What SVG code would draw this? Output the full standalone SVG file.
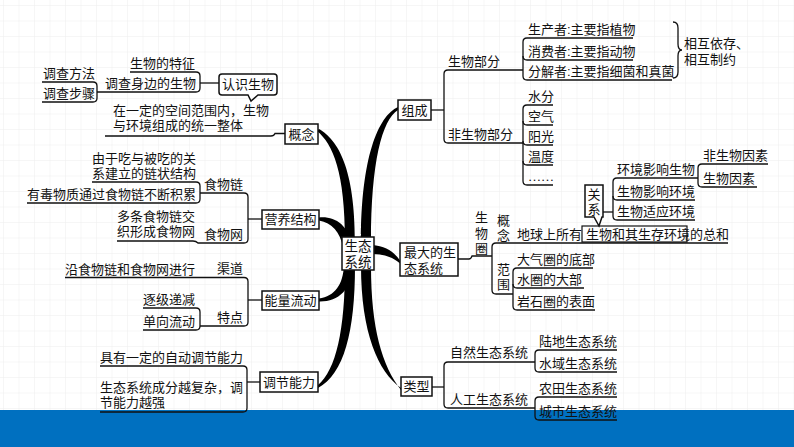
<svg xmlns="http://www.w3.org/2000/svg" width="794" height="447" viewBox="0 0 794 447">
<defs>
<pattern id="grid" x="3" y="5" width="15.5" height="15.5" patternUnits="userSpaceOnUse"><path d="M0,0 H15.5 M0,0 V15.5" stroke="#eeeeee" stroke-width="1" fill="none"/></pattern>
<style>
text{font-family:"Liberation Sans","Noto Sans CJK SC",sans-serif;font-size:13px;fill:#111}
.m{text-anchor:middle}
.ln{fill:none;stroke:#111;stroke-width:1.3}
.box{fill:#fff;stroke:#111;stroke-width:1.5}
.br{fill:#000}
</style>
</defs>
<rect width="794" height="447" fill="#fff"/>
<rect width="794" height="410" fill="url(#grid)"/>
<rect x="0" y="410" width="794" height="37" fill="#0070c0"/>

<g id="connectors">
<path class="br" d="M317,131 C333,144 345,172 345,242 L355,242 C355,168 338,140 319,129 Z"/>
<path class="br" d="M398,107 C378,116 361,158 361,242 L371,242 C371,162 382,120 398,110 Z"/>
<path class="br" d="M318,385 C336,370 345,330 345,266 L355,266 C355,332 344,374 318,388 Z"/>
<path class="br" d="M401,388 C378,372 361,332 361,266 L371,266 C371,328 382,366 401,390 Z"/>
<path class="br" d="M319,217.5 C335,216 348,225 352,245 L343,247 C340,232 332,223 319,220.5 Z"/>
<path class="br" d="M319,298.5 C335,296 343,285 344,265 L353,265 C352,290 338,302 319,301.5 Z"/>
<path class="br" d="M400,260.5 C394,252 386,246 372,245 L372,254 C385,254 394,258 400,263.5 Z"/>

<path class="ln" d="M431,110 H444"/>
<path class="ln" d="M523,70 H448 Q444,70 444,74 V139 Q444,143 448,143 H523"/>
<path class="ln" d="M633,38 H527 Q523,38 523,42 V76 Q523,80 527,80 H672"/>
<path class="ln" d="M523,56 Q523,60 527,60 H633"/>
<path class="ln" d="M673,22 Q678,22 678,28 V44 Q678,50 682,50 Q678,50 678,56 V72 Q678,78 673,78"/>
<path class="ln" d="M553,105 H527 Q523,105 523,109 V181 Q523,185 527,185 H553"/>
<path class="ln" d="M523,121 Q523,125 527,125 H553 M523,141 Q523,145 527,145 H553 M523,161 Q523,165 527,165 H553"/>

<path class="ln" d="M458,259 H469 Q471,259 472,256 H492"/>
<path class="ln" d="M728,243 H496 Q492,243 492,247 V290 Q492,294 496,294 H513"/>
<path class="ln" d="M593,268 H517 Q513,268 513,272 V306 Q513,310 517,310 H595"/>
<path class="ln" d="M513,284 Q513,288 517,288 H584"/>
<rect x="582" y="226" width="105" height="16" fill="none" stroke="#111" stroke-width="1.2"/>
<path class="ln" d="M603,212 H613"/>
<path class="ln" d="M698,178 H617 Q613,178 613,182 V216 Q613,220 617,220 H695"/>
<path class="ln" d="M613,196 Q613,200 617,200 H695"/>
<path class="ln" d="M768,164 H702 Q698,164 698,168 V183 Q698,187 702,187 H757"/>

<path class="ln" d="M432,387 H444"/>
<path class="ln" d="M535,362 H448 Q444,362 444,366 V404 Q444,408 448,408 H535"/>
<path class="ln" d="M617,350 H539 Q535,350 535,354 V368 Q535,372 539,372 H617"/>
<path class="ln" d="M617,397 H539 Q535,397 535,401 V416 Q535,420 539,420 H617"/>

<path class="ln" d="M200,83 H219"/>
<path class="ln" d="M130,72 H196 Q200,72 200,76 V88 Q200,92 196,92 H97"/>
<path class="ln" d="M42,82 H93 Q97,82 97,86 V98 Q97,102 93,102 H42"/>
<path class="ln" d="M105,136 H271 Q274,136 275,133.5 H285"/>
<path class="ln" d="M248,219 H262"/>
<path class="ln" d="M200,193 H244 Q248,193 248,197 V239 Q248,243 244,243 H198 Q196,241 193,241 H117"/>
<path class="ln" d="M92,182 H196 Q200,182 200,186 V199 Q200,203 196,203 H27"/>
<path class="ln" d="M248,300 H262"/>
<path class="ln" d="M65,277.5 H244 Q248,277.5 248,281.5 V322 Q248,326 244,326 H200"/>
<path class="ln" d="M143,308 H196 Q200,308 200,312 V326 Q200,330 196,330 H143"/>
<path class="ln" d="M247,382 H260"/>
<path class="ln" d="M100,366 H243 Q247,366 247,370 V408 Q247,412 243,412 H100"/>
</g>

<g id="center">
<rect class="box" x="342" y="237" width="32" height="33"/>
<text class="m" style="font-size:13.5px"><tspan x="358" y="251">生态</tspan><tspan x="358" y="266.5">系统</tspan></text>
</g>

<g id="zucheng">
<rect class="box" x="398" y="100" width="33" height="20"/>
<text class="m" x="414.5" y="115">组成</text>
<text x="448" y="66">生物部分</text>
<text x="448" y="139">非生物部分</text>
<text x="528" y="34">生产者:主要指植物</text>
<text x="528" y="56">消费者:主要指动物</text>
<text x="528" y="76">分解者:主要指细菌和真菌</text>
<text><tspan x="684" y="48">相互依存、</tspan><tspan x="684" y="64">相互制约</tspan></text>
<text x="528" y="101">水分</text>
<text x="528" y="121">空气</text>
<text x="528" y="141">阳光</text>
<text x="528" y="161">温度</text>
<text x="528" y="181" style="font-family:'Liberation Serif',serif">……</text>
</g>

<g id="zuida">
<rect class="box" x="400" y="243" width="58" height="33"/>
<text><tspan x="404" y="257">最大的生</tspan><tspan x="404" y="272.5">态系统</tspan></text>
<text class="m"><tspan x="481.5" y="222">生</tspan><tspan x="481.5" y="237.5">物</tspan><tspan x="481.5" y="253">圈</tspan></text>
<text class="m"><tspan x="503.5" y="224.5">概</tspan><tspan x="503.5" y="240">念</tspan></text>
<text class="m"><tspan x="503.5" y="273.5">范</tspan><tspan x="503.5" y="289">围</tspan></text>
<text x="517" y="239">地球上所有</text>
<text x="586" y="239">生物和其生存环境</text>
<text x="690" y="239">的总和</text>
<text x="517" y="264">大气圈的底部</text>
<text x="517" y="284">水圈的大部</text>
<text x="517" y="306">岩石圈的表面</text>
</g>

<g id="guanxi">
<path class="box" d="M585,185 H603 V217 H602 L599,226 L594,217 H585 Z"/>
<text class="m"><tspan x="594" y="198.5">关</tspan><tspan x="594" y="214">系</tspan></text>
<text x="617" y="174">环境影响生物</text>
<text x="617" y="196">生物影响环境</text>
<text x="617" y="216">生物适应环境</text>
<text x="703" y="160">非生物因素</text>
<text x="703" y="183">生物因素</text>
</g>

<g id="leixing">
<rect class="box" x="401" y="377" width="31" height="19"/>
<text class="m" x="416.5" y="391">类型</text>
<text x="450" y="357">自然生态系统</text>
<text x="450" y="404">人工生态系统</text>
<text x="539" y="346">陆地生态系统</text>
<text x="539" y="368">水域生态系统</text>
<text x="539" y="393">农田生态系统</text>
<text x="539" y="416">城市生态系统</text>
</g>

<g id="renshi">
<path class="box" d="M222,74 H274 Q277,74 277,77 V92 Q277,95 274,95 H258 L251,101 L248,95 H222 Q219,95 219,92 V77 Q219,74 222,74 Z"/>
<text class="m" x="248" y="89">认识生物</text>
<text x="130" y="68">生物的特征</text>
<text x="105" y="88">调查身边的生物</text>
<text x="43" y="78">调查方法</text>
<text x="43" y="98">调查步骤</text>
</g>

<g id="gainian">
<rect class="box" x="285" y="124" width="33" height="20"/>
<text class="m" x="301.5" y="139">概念</text>
<text><tspan x="113" y="115">在一定的空间范围内，生物</tspan><tspan x="113" y="130">与环境组成的统一整体</tspan></text>
</g>

<g id="yingyang">
<rect class="box" x="262" y="210" width="57" height="19"/>
<text class="m" x="290.5" y="224">营养结构</text>
<text x="204" y="189">食物链</text>
<text x="204" y="239">食物网</text>
<text><tspan x="92" y="163">由于吃与被吃的关</tspan><tspan x="92" y="178">系建立的链状结构</tspan></text>
<text x="27" y="199">有毒物质通过食物链不断积累</text>
<text><tspan x="117" y="221">多条食物链交</tspan><tspan x="117" y="236">织形成食物网</tspan></text>
</g>

<g id="nengliang">
<rect class="box" x="262" y="291" width="57" height="19"/>
<text class="m" x="290.5" y="305">能量流动</text>
<text x="217" y="273">渠道</text>
<text x="65" y="274">沿食物链和食物网进行</text>
<text x="217" y="322">特点</text>
<text x="143" y="304">逐级递减</text>
<text x="143" y="326">单向流动</text>
</g>

<g id="tiaojie">
<rect class="box" x="260" y="372" width="58" height="20"/>
<text class="m" x="289" y="387">调节能力</text>
<text x="100" y="362">具有一定的自动调节能力</text>
<text><tspan x="100" y="392">生态系统成分越复杂，调</tspan><tspan x="100" y="407">节能力越强</tspan></text>
</g>
</svg>
